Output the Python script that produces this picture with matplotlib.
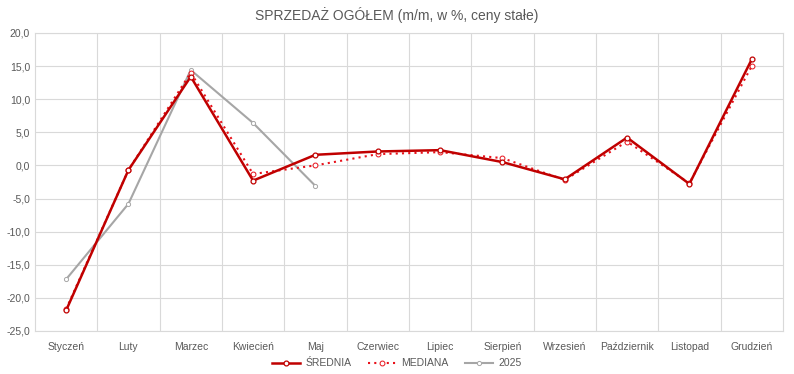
import matplotlib
matplotlib.use("Agg")
import matplotlib.pyplot as plt
import numpy as np

plt.rcParams['font.family'] = ['Liberation Sans', 'DejaVu Sans']

miesiace = ["Styczeń", "Luty", "Marzec", "Kwiecień", "Maj", "Czerwiec", "Lipiec",
            "Sierpień", "Wrzesień", "Październik", "Listopad", "Grudzień"]
srednia = [-21.9, -0.7, 13.4, -2.3, 1.6, 2.1, 2.3, 0.5, -2.1, 4.2, -2.8, 16.0]
mediana = [-21.7, -0.7, 14.0, -1.3, 0.0, 1.7, 2.0, 1.1, -2.2, 3.6, -2.7, 15.0]
rok_2025 = [-17.2, -5.8, 14.4, 6.4, -3.1]

fig = plt.figure(figsize=(7.94, 3.74), dpi=100)
ax = fig.add_axes([0.044, 0.115, 0.942, 0.797])

x = np.arange(len(miesiace))
ax.plot(x, srednia, color="#C00000", lw=1.8, marker="o", ms=3.5, mfc="white",
        mec="#C00000", mew=0.9, label="ŚREDNIA", zorder=4)
ax.plot(x, mediana, color="#E8121B", lw=1.5, ls=(0, (1, 2)), marker="o", ms=3.5,
        mfc="white", mec="#E8121B", mew=0.7, label="MEDIANA", zorder=3)
ax.plot(x[:len(rok_2025)], rok_2025, color="#A6A6A6", lw=1.5, marker="o", ms=3,
        mfc="white", mec="#A6A6A6", mew=0.7, label="2025", zorder=2)

ax.set_xlim(-0.5, 11.5)
ax.set_ylim(-25, 20)
ax.set_yticks(np.arange(-25, 20.1, 5))
ax.set_yticklabels([f"{v:.1f}".replace(".", ",") for v in np.arange(-25, 20.1, 5)])
ax.set_xticks(x)
ax.set_xticklabels(miesiace)
ax.set_xticks(np.arange(0.5, 11.5, 1), minor=True)
ax.grid(True, which="major", axis="y", color="#D9D9D9", lw=0.8)
ax.grid(True, which="minor", axis="x", color="#D9D9D9", lw=0.8)
ax.set_axisbelow(True)
for s in ax.spines.values():
    s.set_color("#D9D9D9")
    s.set_linewidth(0.8)
ax.tick_params(which="both", length=0, labelsize=7.5, colors="#595959")
ax.tick_params(axis="x", pad=8)

fig.suptitle("SPRZEDAŻ OGÓŁEM (m/m, w %, ceny stałe)", y=0.98, fontsize=10, color="#595959")
fig.legend(loc="lower center", bbox_to_anchor=(0.5, -0.01), ncol=3, frameon=False,
           fontsize=7.5, labelcolor="#595959", handlelength=2.7, handletextpad=0.5,
           columnspacing=1.6)

fig.savefig("out.png", dpi=100)
